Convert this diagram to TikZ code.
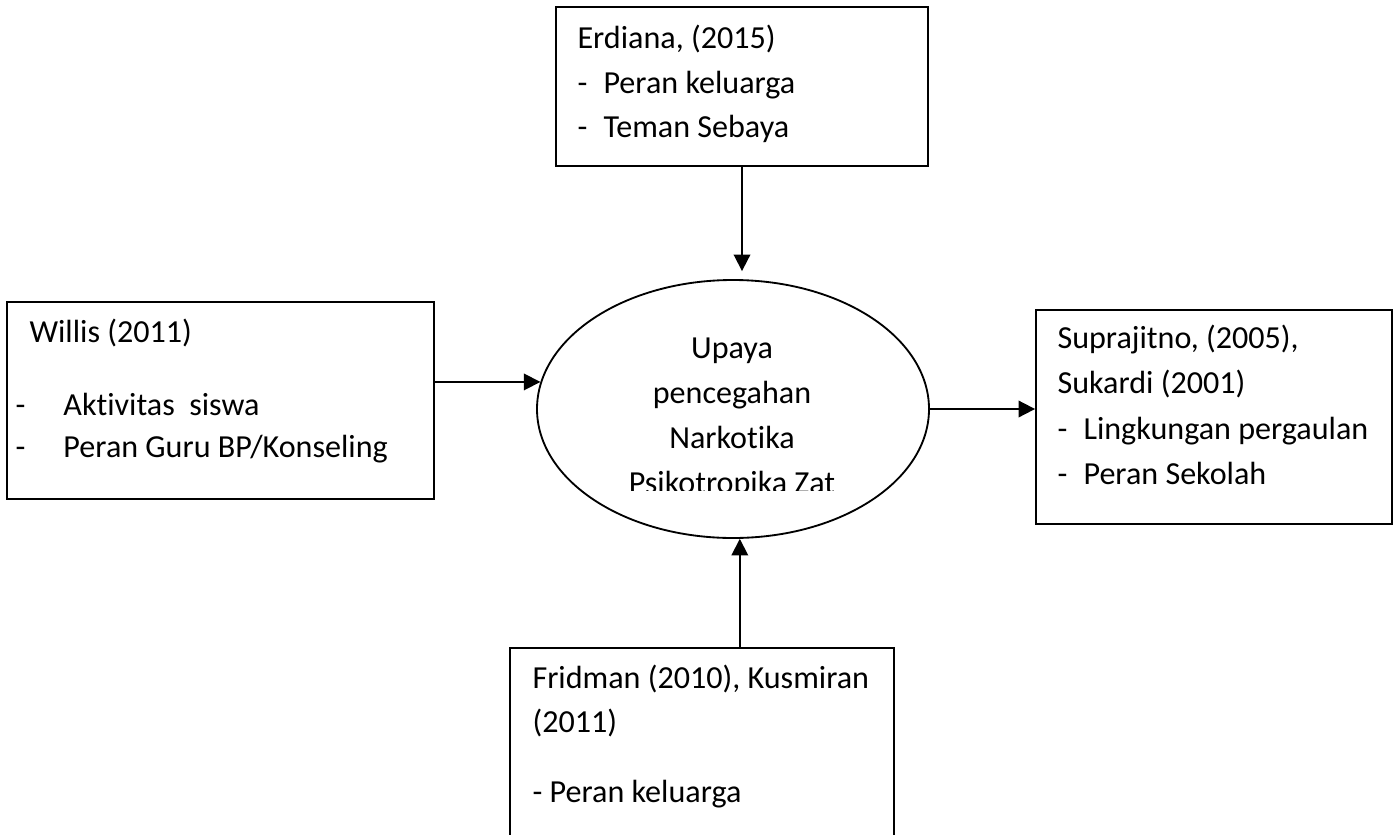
\documentclass[tikz,border=0pt]{standalone}
\usepackage{fontspec}
\setmainfont{Carlito}[Ligatures=NoCommon]
\usetikzlibrary{shapes.geometric,arrows.meta}
\newlength\px
\setlength\px{0.38pt}
\tikzset{
  box/.style={draw, line width=0.7pt, inner sep=0pt},
  txt/.style={anchor=base west, inner sep=0pt, font=\fontsize{12.2}{14}\selectfont},
  ctxt/.style={anchor=base, inner sep=0pt, font=\fontsize{12.2}{14}\selectfont},
  arr/.style={line width=0.7pt, -{Triangle[length=6.3pt, width=6.3pt]}}
}
\newcommand{\itemdash}[1]{\makebox[26\px][l]{-}#1}

\begin{document}
\begin{tikzpicture}[x=0.38pt, y=-0.38pt]
  \useasboundingbox (0,0) rectangle (1397,834);
  \clip (0,0) rectangle (1397,834);

  \node[box, minimum width={372*\px}, minimum height={159*\px}] (erdiana) at (742,86.5) {};
  \node[box, minimum width={427*\px}, minimum height={197*\px}] (willis) at (220.5,400.5) {};
  \node[box, minimum width={356*\px}, minimum height={214*\px}] (supra) at (1214,417) {};
  \node[box, minimum width={384*\px}, minimum height={222*\px}] (fridman) at (702,759) {};
  \node[box, ellipse, minimum width={392*\px}, minimum height={258*\px}] (upaya) at (733,409) {};

  \node[txt] (erdiana1) at (577,48) {Erdiana, (2015)};
  \node[txt] (erdiana2) at (577,93) {\itemdash{Peran keluarga}};
  \node[txt] (erdiana3) at (577,137) {\itemdash{Teman Sebaya}};

  \node[txt] (willis1) at (29,342) {Willis (2011)};
  \node[txt] (willis2) at (15,415) {\makebox[48\px][l]{-}Aktivitas\ \ siswa};
  \node[txt] (willis3) at (15,457) {\makebox[48\px][l]{-}Peran Guru BP/Konseling};

  \node[txt] (supra1) at (1057,348) {Suprajitno, (2005),};
  \node[txt] (supra2) at (1057,393) {Sukardi (2001)};
  \node[txt] (supra3) at (1057,439) {\itemdash{Lingkungan pergaulan}};
  \node[txt] (supra4) at (1057,484) {\itemdash{Peran Sekolah}};

  \node[txt] (fridman1) at (532,688) {Fridman (2010), Kusmiran};
  \node[txt] (fridman2) at (532,732) {(2011)};
  \node[txt] (fridman3) at (532,802) {- Peran keluarga};

  \begin{scope}
    \clip (537,280) rectangle (930,490);
    \node[ctxt] (upaya1) at (732,358) {Upaya};
    \node[ctxt] (upaya2) at (732,403) {pencegahan};
    \node[ctxt] (upaya3) at (732,448) {Narkotika};
    \node[ctxt] (upaya4) at (732,493) {Psikotropika Zat};
  \end{scope}

  \draw[arr, shorten >=8\px] (erdiana.south) -- (erdiana.south |- upaya.north);
  \draw[arr] (willis.east |- upaya.172.5) -- (upaya.172.5);
  \draw[arr] (upaya.east) -- (upaya.east -| supra.west);
  \draw[arr] (fridman.north -| upaya.-87) -- (upaya.-87);
\end{tikzpicture}
\end{document}
